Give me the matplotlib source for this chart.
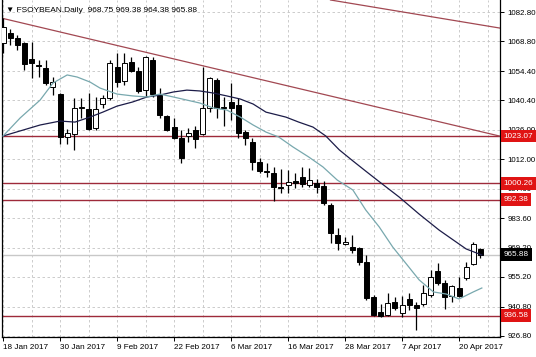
import matplotlib
matplotlib.use('Agg')
import matplotlib.pyplot as plt
import numpy as np

plt.rcParams['font.family'] = ['Liberation Sans', 'DejaVu Sans']

# daily candles, bar index 0..67
opens = [1067.9, 1072.7, 1070.3, 1067.9, 1060.2, 1057.3, 1055.8, 1046.7, 1043.3, 1022.6,
         1024.1, 1036.6, 1036.1, 1026.9, 1038.5, 1041.4, 1056.3, 1049.6, 1058.7, 1054.4,
         1045.2, 1059.7, 1042.8, 1032.7, 1027.4, 1022.1, 1023.1, 1026.0, 1024.1, 1036.6,
         1050.1, 1037.1, 1039.5, 1038.0, 1025.0, 1020.2, 1010.6, 1006.2, 1005.3, 998.3,
         999.5, 1001.4, 1003.4, 999.5, 1000.5, 999.0, 989.9, 975.4, 971.1, 969.6,
         969.2, 962.4, 945.6, 938.4, 936.9, 943.2, 937.9, 944.6, 941.7, 942.2,
         946.5, 958.1, 952.3, 946.1, 949.9, 954.7, 961.5, 968.75]
highs = [1079.9, 1074.6, 1071.7, 1068.4, 1068.4, 1059.7, 1059.7, 1051.5, 1043.8, 1026.5,
         1041.4, 1041.4, 1043.8, 1041.9, 1042.8, 1059.7, 1063.1, 1063.1, 1061.1, 1056.3,
         1061.6, 1061.1, 1046.2, 1033.2, 1031.8, 1026.0, 1026.9, 1027.9, 1056.3, 1051.5,
         1051.0, 1041.9, 1048.6, 1041.4, 1026.0, 1022.1, 1012.5, 1010.1, 1008.2, 1007.2,
         1006.7, 1005.3, 1008.2, 1007.7, 1002.4, 1001.4, 990.8, 978.8, 974.5, 975.4,
         969.6, 965.8, 946.5, 942.2, 947.5, 945.6, 946.1, 947.5, 943.2, 951.4,
         958.6, 961.9, 953.8, 951.4, 955.2, 962.4, 972.1, 969.38]
lows = [1063.1, 1066.9, 1064.5, 1054.9, 1051.0, 1051.5, 1047.6, 1042.8, 1019.2, 1019.2,
        1016.4, 1031.8, 1026.0, 1026.0, 1036.6, 1040.4, 1046.7, 1047.6, 1053.9, 1043.8,
        1041.9, 1041.9, 1031.8, 1025.5, 1021.6, 1010.1, 1020.2, 1017.3, 1023.6, 1034.6,
        1031.8, 1027.9, 1030.8, 1022.1, 1018.8, 1006.7, 1005.3, 1003.4, 991.8, 995.6,
        995.6, 998.1, 998.5, 998.5, 995.6, 989.9, 971.6, 968.2, 970.6, 966.8,
        961.0, 944.1, 936.4, 936.0, 936.4, 939.3, 936.0, 939.3, 929.7, 941.2,
        945.6, 951.4, 939.8, 943.2, 945.6, 953.8, 961.0, 964.38]
closes = [1075.6, 1070.3, 1066.9, 1057.8, 1058.2, 1056.8, 1048.6, 1049.1, 1022.6, 1024.5,
          1036.6, 1037.1, 1026.5, 1036.1, 1041.4, 1058.2, 1049.1, 1058.2, 1054.4, 1044.8,
          1061.1, 1043.3, 1033.2, 1026.0, 1022.1, 1012.5, 1024.5, 1021.6, 1036.6, 1051.0,
          1036.6, 1036.6, 1036.6, 1024.5, 1022.1, 1010.6, 1006.2, 1005.8, 998.5, 998.1,
          1000.9, 1000.5, 1000.0, 1001.9, 998.5, 990.8, 976.4, 971.6, 972.1, 968.2,
          962.4, 945.1, 936.9, 936.4, 942.7, 940.3, 941.7, 941.7, 940.3, 947.5,
          955.2, 952.3, 945.6, 950.9, 946.1, 960.0, 971.1, 965.88]

# moving averages (bar index, price)
ma_slow_x = [0, 5.2, 8.0, 10.1, 12.2, 14.0, 16.0, 18.2, 20.2, 22.0, 23.9, 25.8, 27.6, 29.5, 31.4,
             33.3, 35.1, 36.9, 39.7, 41.5, 43.5, 45.3, 47.2, 49.1, 50.9, 52.5, 55.6, 58.4, 61.2,
             63.2, 65.0, 67.2]
ma_slow_y = [1023.1, 1028.4, 1030.3, 1029.8, 1032.2, 1034.6, 1037.5, 1039.5, 1041.9, 1042.8,
             1044.3, 1045.2, 1044.8, 1043.8, 1042.4, 1040.9, 1038.5, 1034.6, 1032.2, 1029.8,
             1027.4, 1023.1, 1016.4, 1011.1, 1006.2, 1001.9, 993.7, 985.5, 977.8, 973.0,
             968.7, 965.8]
ma_fast_x = [0, 2.4, 5.2, 7.0, 9.0, 10.4, 12.2, 13.6, 16.0, 18.2, 20.2, 22.0, 23.9, 25.8, 27.6,
             29.5, 31.4, 33.3, 35.1, 36.9, 38.7, 40.7, 42.9, 44.9, 46.9, 49.1, 50.9, 52.8, 54.7,
             56.6, 58.4, 60.4, 62.2, 64.0, 66.0, 67.2]
ma_fast_y = [1023.1, 1031.8, 1040.4, 1048.6, 1052.5, 1051.5, 1049.1, 1046.2, 1043.3, 1042.4,
             1041.9, 1043.3, 1041.9, 1040.4, 1039.0, 1036.6, 1035.6, 1032.2, 1028.4, 1025.0,
             1022.6, 1017.8, 1013.0, 1008.2, 1001.9, 997.1, 987.5, 979.3, 969.6, 961.5,
             953.8, 948.0, 947.0, 944.6, 948.0, 949.9]

levels = [1023.07, 1000.26, 992.38, 936.58]
last_price = 965.88
trend1 = [(0, 1079.7), (69.7, 1023.07)]
trend2 = [(48.6, 1087.1), (69.7, 1075.1)]

date_pos = [0, 8, 16, 24, 32, 40, 48, 56, 64]
date_labels = ['18 Jan 2017', '30 Jan 2017', '9 Feb 2017', '22 Feb 2017', '6 Mar 2017',
               '16 Mar 2017', '28 Mar 2017', '7 Apr 2017', '20 Apr 2017']
price_ticks = [1082.80, 1068.80, 1054.40, 1040.40, 1026.00, 1012.00, 997.60, 983.60,
               969.20, 955.20, 940.80, 926.80]

fig = plt.figure(figsize=(5.36, 3.57), dpi=100)
ax = fig.add_axes([2 / 536, 20 / 357, 498 / 536, 337 / 357])
ax.set_xlim(-0.15, 69.75)
ax.set_ylim(926.3, 1088.6)

# grid
ax.set_xticks(date_pos)
ax.set_xticks(np.arange(4, 69, 8), minor=True)
ax.set_yticks(price_ticks)
ax.grid(True, which='both', linestyle=(0, (3, 3)), color='#c4c4c4', lw=0.6)
ax.set_axisbelow(True)

ax.axhline(last_price, color='#c8c8c8', lw=1.0, zorder=1)
for lv in levels:
    ax.axhline(lv, color='#9e2a3a', lw=1.0, zorder=2)
for (x0, y0), (x1, y1) in (trend1, trend2):
    ax.axline((x0, y0), (x1, y1), color='#a24852', lw=0.9, zorder=2)

ax.plot(ma_slow_x, ma_slow_y, color='#1c1c48', lw=0.9, zorder=4)
ax.plot(ma_fast_x, ma_fast_y, color='#78a8ae', lw=0.9, zorder=4)

idx = np.arange(len(opens))
o = np.array(opens); c = np.array(closes)
up = c >= o
ax.vlines(idx, lows, highs, color='black', lw=0.9, zorder=3)
body = np.maximum(np.abs(c - o), 0.15)
ax.bar(idx, body, bottom=np.minimum(o, c), width=0.7,
       color=np.where(up, 'white', 'black'), edgecolor='black', lw=0.7, zorder=3)

# axes styling
ax.spines['top'].set_visible(False)
for s in ('left', 'right', 'bottom'):
    ax.spines[s].set_linewidth(0.9)
ax.yaxis.tick_right()
ax.tick_params(axis='y', which='major', labelsize=5.7, length=3, width=0.7, pad=2.5)
ax.tick_params(axis='x', which='major', labelsize=5.9, length=3, width=0.7, pad=2)
ax.tick_params(axis='x', which='minor', length=0)
ax.set_yticklabels(['%.2f' % v for v in price_ticks])
ax.set_xticklabels(date_labels, ha='left')

box_kw = dict(xycoords=('axes fraction', 'data'), xytext=(2.6, 0), textcoords='offset points',
              ha='left', va='center', fontsize=5.9, color='white', annotation_clip=False, zorder=6)
for lv in levels:
    ax.annotate('%.2f' % lv, xy=(1, lv),
                bbox=dict(boxstyle='square,pad=0.35', fc='#e01414', ec='none'), **box_kw)
ax.annotate('%.2f' % last_price, xy=(1, last_price),
            bbox=dict(boxstyle='square,pad=0.35', fc='black', ec='none'), **box_kw)

ax.text(0.008, 0.97, '\u25bc FSOYBEAN.Daily  968.75 969.38 964.38 965.88', transform=ax.transAxes,
        fontsize=6, va='center', ha='left', color='black', zorder=6)

fig.savefig('out.png', dpi=100)
